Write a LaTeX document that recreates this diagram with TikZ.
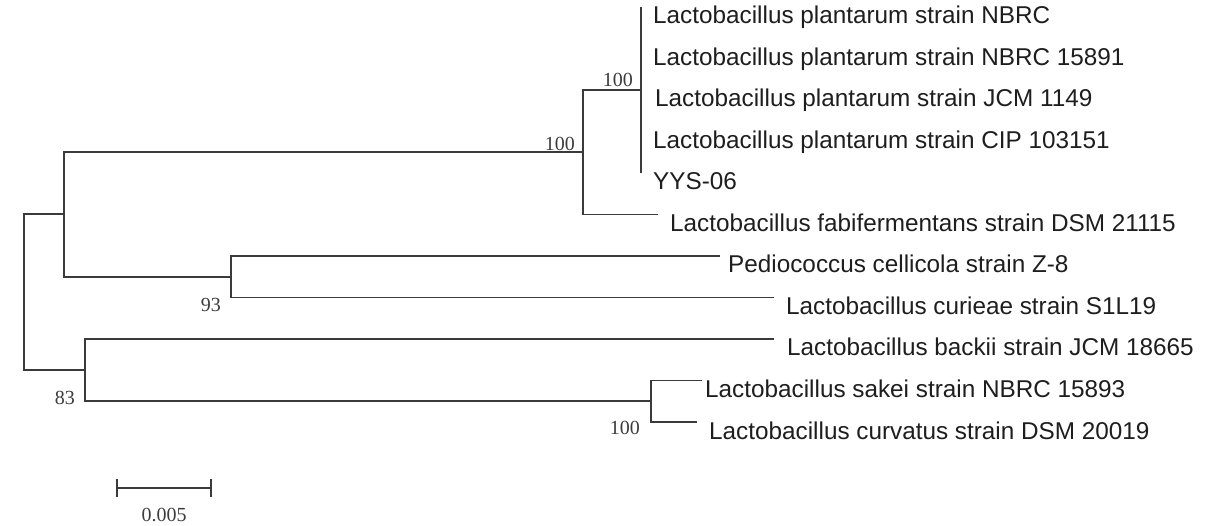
\documentclass[tikz,border=0pt]{standalone}
\usepackage{fontspec}
\newfontfamily\lsans{Liberation Sans}
\newfontfamily\lserif{Liberation Serif}
\definecolor{linec}{HTML}{3A3A3A}
\definecolor{txtc}{HTML}{1E1E1E}
\definecolor{bootc}{HTML}{3C3C3C}
\begin{document}
\begin{tikzpicture}[x=1pt,y=-1pt,
  branch/.style={draw=linec,line width=1.8pt,line cap=butt,line join=miter},
  leaf/.style={anchor=base west,inner sep=0pt,text=txtc,font=\lsans\fontsize{24.3}{28}\selectfont},
  boot/.style={anchor=base east,inner sep=0pt,text=bootc,font=\lserif\fontsize{20}{24}\selectfont}]
\useasboundingbox[fill=white] (0,0) rectangle (1221,526);
% internal nodes
\coordinate (R) at (24,292.2);
\coordinate (A) at (64,214.4);
\coordinate (B) at (583,152.25);
\coordinate (C) at (641,90);
\coordinate (D) at (231,276.75);
\coordinate (E) at (85,370);
\coordinate (F) at (651,401.25);
% tips
\coordinate (t1) at (641,7);
\coordinate (t2) at (641,48.5);
\coordinate (t3) at (641,90);
\coordinate (t4) at (641,131.5);
\coordinate (t5) at (641,173);
\coordinate (t6) at (658,214.5);
\coordinate (t7) at (720,256);
\coordinate (t8) at (774,297.5);
\coordinate (t9) at (774,339);
\coordinate (t10) at (702,380.5);
\coordinate (t11) at (697,422);
% branches
\draw[branch] (R) |- (A);
\draw[branch] (R) |- (E);
\draw[branch] (A) |- (B);
\draw[branch] (A) |- (D);
\draw[branch] (B) |- (C);
\draw[branch] (B) |- (t6);
\draw[branch] (t1) -- (t5);
\draw[branch] (D) |- (t7);
\draw[branch] (D) |- (t8);
\draw[branch] (E) |- (t9);
\draw[branch] (E) |- (F);
\draw[branch] (F) |- (t10);
\draw[branch] (F) |- (t11);
% leaf labels
\node[leaf] (l1) at (653,24) {Lactobacillus plantarum strain NBRC};
\node[leaf] (l2) at (653,65.5) {Lactobacillus plantarum strain NBRC 15891};
\node[leaf] (l3) at (655,107) {Lactobacillus plantarum strain JCM 1149};
\node[leaf] (l4) at (653,148.5) {Lactobacillus plantarum strain CIP 103151};
\node[leaf] (l5) at (653,190) {YYS-06};
\node[leaf] (l6) at (670,231.5) {Lactobacillus fabifermentans strain DSM 21115};
\node[leaf] (l7) at (728,273) {Pediococcus cellicola strain Z-8};
\node[leaf] (l8) at (786,314.5) {Lactobacillus curieae strain S1L19};
\node[leaf] (l9) at (787,356) {Lactobacillus backii strain JCM 18665};
\node[leaf] (l10) at (705,397.5) {Lactobacillus sakei strain NBRC 15893};
\node[leaf] (l11) at (709,439) {Lactobacillus curvatus strain DSM 20019};
% bootstrap values
\node[boot] (bC) at (633,87) {100};
\node[boot] (bB) at (575,151) {100};
\node[boot] (bD) at (221,312) {93};
\node[boot] (bE) at (75,405) {83};
\node[boot] (bF) at (640,435) {100};
% scale bar
\coordinate (s1) at (117,488);
\coordinate (s2) at (211,488);
\draw[branch] (s1) -- (s2);
\draw[branch] ([yshift=9pt]s1) -- ([yshift=-9pt]s1);
\draw[branch] ([yshift=9pt]s2) -- ([yshift=-9pt]s2);
\node[boot,anchor=base] (sl) at (164,521) {0.005};
\end{tikzpicture}
\end{document}
